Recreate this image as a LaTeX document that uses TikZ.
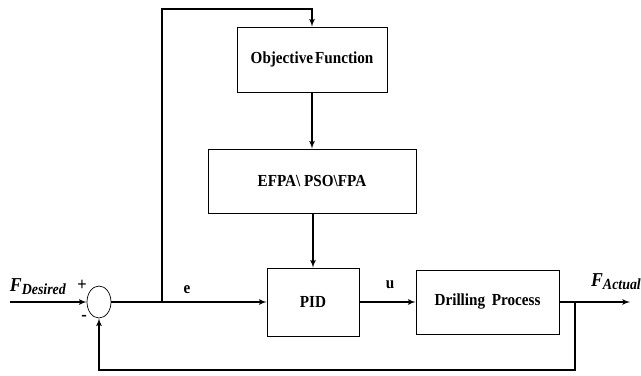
\documentclass[tikz,border=0pt]{standalone}
\usepackage{fontspec}
\setmainfont{Liberation Serif}[FakeStretch=0.9]
\usetikzlibrary{shapes.geometric,arrows,positioning,calc}

\begin{document}
\begin{tikzpicture}[auto, > = latex', font = \fontsize{12}{14}\selectfont\bfseries]
    \tikzset{
      block/.style = {draw, line width = 0.5pt, inner sep = 0pt, anchor = center},
      summer/.style = {draw, ellipse, line width = 0.5pt, minimum width = 0.6cm, minimum height = 0.8cm, inner sep = 0pt},
      signal/.style = {line width = 0.9pt},
      tag/.style = {inner sep = 0pt, anchor = center},
    }
    \useasboundingbox (0, 0) rectangle (16.025, 9.375);

    \node [block, minimum width = 3.75cm, minimum height = 1.625cm] (objfun) at (7.8, 7.8875) {Objective\hspace{0.12em}Function};
    \node [block, minimum width = 5.2cm, minimum height = 1.6cm] (optim) at (7.8, 4.85) {EFPA\textbackslash\ PSO\textbackslash FPA};
    \node [block, minimum width = 2.3cm, minimum height = 1.7cm] (pid) at (7.825, 1.825) {PID};
    \node [block, minimum width = 3.575cm, minimum height = 1.6cm] (plant) at (12.1875, 1.825) {Drilling\, Process};
    \node [summer] (sum) at (2.475, 1.825) {};

    \coordinate (input) at (0.25, 1.825);
    \coordinate (output) at (15.75, 1.825);
    \coordinate (split) at (4.05, 1.825);
    \coordinate (splittop) at (4.05, 9.15);
    \coordinate (objtop) at (7.8, 9.15);
    \coordinate (fbsplit) at (14.375, 1.825);
    \coordinate (fbbottom) at (14.375, 0.125);
    \coordinate (sumbottom) at (2.475, 0.125);

    \draw [signal, ->] (input) -- (sum);
    \draw [signal, ->] (sum) -- (pid);
    \draw [signal, ->] (split) -- (splittop) -- (objtop) -- (objfun);
    \draw [signal, ->] (objfun) -- (optim);
    \draw [signal, ->] (optim.south -| pid) -- (pid);
    \draw [signal, ->] (pid) -- (plant);
    \draw [signal, ->] (plant) -- (output);
    \draw [signal, ->] (fbsplit) -- (fbbottom) -- (sumbottom) -- (sum);

    \node [tag] (fdes) at (0.95, 2.2) {\fontsize{14}{16}\selectfont\textit{F}\raisebox{-0.35ex}{\fontsize{11}{13}\selectfont\textit{Desired}}};
    \node [tag] (fact) at (15.4, 2.325) {\fontsize{14}{16}\selectfont\textit{F}\raisebox{-0.35ex}{\fontsize{11}{13}\selectfont\textit{Actual}}};
    \node [tag] (plus) at (2.05, 2.25) {\fontsize{13}{15}\selectfont +};
    \node [tag] (minus) at (2.1, 1.425) {\fontsize{13}{15}\selectfont -};
    \node [tag] (err) at (4.675, 2.125) {e};
    \node [tag] (ctrl) at (9.75, 2.25) {u};
  \end{tikzpicture}
\end{document}
